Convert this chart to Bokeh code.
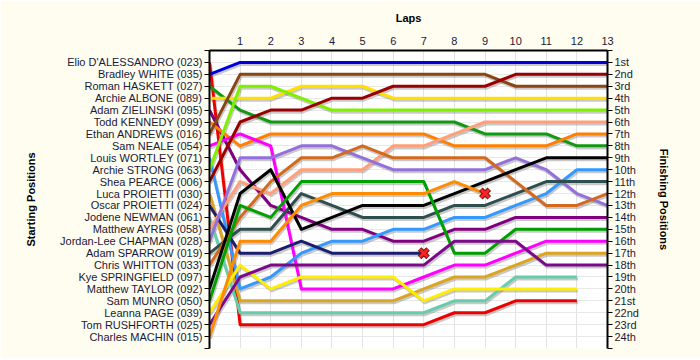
from bokeh.plotting import figure
from bokeh.models import Range1d, FixedTicker, LinearAxis
from bokeh.embed import file_html
from bokeh.resources import INLINE

# Starting grid (position 1..24)
starters = [
    "Elio D'ALESSANDRO (023)", "Bradley WHITE (035)", "Roman HASKETT (027)",
    "Archie ALBONE (089)", "Adam ZIELINSKI (095)", "Todd KENNEDY (099)",
    "Ethan ANDREWS (016)", "Sam NEALE (054)", "Louis WORTLEY (071)",
    "Archie STRONG (063)", "Shea PEARCE (006)", "Luca PROIETTI (030)",
    "Oscar PROIETTI (024)", "Jodene NEWMAN (061)", "Matthew AYRES (058)",
    "Jordan-Lee CHAPMAN (028)", "Adam SPARROW (019)", "Chris WHITTON (033)",
    "Kye SPRINGFIELD (097)", "Matthew TAYLOR (092)", "Sam MUNRO (050)",
    "Leanna PAGE (039)", "Tom RUSHFORTH (025)", "Charles MACHIN (015)",
]
finish_labels = ["1st", "2nd", "3rd"] + [f"{i}th" for i in range(4, 21)] + ["21st", "22nd", "23rd", "24th"]
laps_ticks = list(range(1, 14))

# Position at lap 0, 1, 2, ... (list ends where the driver stopped)
pos_elio    = [1, 23, 23, 23, 23, 23, 23, 23, 22, 22, 21, 21, 21]
pos_bradley = [2, 1, 1, 1, 1, 1, 1, 1, 1, 1, 1, 1, 1, 1]
pos_roman   = [3, 5, 6, 6, 6, 6, 6, 6, 6, 7, 7, 7, 8, 8]
pos_albone  = [4, 4, 4, 3, 3, 3, 4, 4, 4, 4, 4, 4, 4, 4]
pos_zielin  = [5, 10, 13, 14, 15, 15, 16, 16, 15, 15, 14, 14, 14, 14]
pos_todd    = [6, 8, 7, 7, 7, 7, 7, 7, 8, 8, 8, 8, 7, 7]
pos_ethan   = [7, 2, 2, 2, 2, 2, 2, 2, 2, 2, 3, 3, 3, 3]
pos_neale   = [8, 7, 8, 20, 20, 20, 20, 19, 18, 18, 17, 16, 16, 16]
pos_wortley = [9, 20, 19, 17, 16, 16, 15, 15, 14, 14, 13, 12, 10, 10]
pos_strong  = [10, 3, 3, 4, 5, 5, 5, 5, 5, 5, 5, 5, 5, 5]
pos_pearce  = [11, 6, 5, 5, 4, 4, 3, 3, 3, 3, 2, 2, 2, 2]
pos_luca    = [12, 21, 21, 21, 21, 21, 21, 20, 19, 19, 18, 17, 17, 17]
pos_oscar   = [13, 17, 17, 16, 17, 17, 17, 17]
pos_newman  = [14, 22, 22, 22, 22, 22, 22, 22, 21, 21, 19, 19, 19]
pos_ayres   = [15, 11, 12, 10, 10, 10, 8, 8, 7, 6, 6, 6, 6, 6]
pos_chapman = [16, 9, 9, 8, 8, 9, 10, 10, 10, 10, 9, 10, 12, 13]
pos_sparrow = [17, 15, 15, 12, 13, 14, 14, 14, 13, 13, 12, 11, 11, 11]
pos_whitton = [18, 14, 11, 9, 9, 8, 9, 9, 9, 9, 11, 13, 13, 12]
pos_taylor  = [20, 12, 10, 15, 14, 13, 13, 13, 12, 11, 10, 9, 9, 9]
pos_munro   = [21, 13, 14, 11, 11, 11, 11, 11, 17, 17, 15, 15, 15, 15]
pos_page    = [22, 18, 20, 19, 19, 19, 19, 21, 20, 20, 20, 20, 20]
pos_rush    = [23, 19, 18, 18, 18, 18, 18, 18, 16, 16, 16, 18, 18, 18]
pos_machin  = [24, 16, 16, 13, 12, 12, 12, 12, 11, 12]

drivers = [
    (pos_elio, "#EE0000"), (pos_bradley, "#0000DD"), (pos_roman, "#119911"),
    (pos_albone, "#FFE000"), (pos_zielin, "#800080"), (pos_todd, "#FF8000"),
    (pos_ethan, "#8B4513"), (pos_neale, "#FF00FF"), (pos_wortley, "#3399FF"),
    (pos_strong, "#80F000"), (pos_pearce, "#990000"), (pos_luca, "#DAA520"),
    (pos_oscar, "#1E1E6E"), (pos_newman, "#66CDAA"), (pos_ayres, "#FFA07A"),
    (pos_chapman, "#9370DB"), (pos_sparrow, "#2F4F4F"), (pos_whitton, "#D2691E"),
    (pos_taylor, "#000000"), (pos_munro, "#00A000"), (pos_page, "#FFEE00"),
    (pos_rush, "#7A0A8A"), (pos_machin, "#FF8C00"),
]
retired_lap = [7, 9]
retired_pos = [17, 12]

p = figure(width=700, height=358, x_range=Range1d(0, 13), y_range=Range1d(25, 0),
           x_axis_location="above", y_axis_location="left",
           output_backend="svg", toolbar_location=None,
           min_border_left=209, min_border_right=93, min_border_top=50, min_border_bottom=10,
           background_fill_color="white", border_fill_color="#FEFDF0",
           outline_line_color=None)

FONT = "Liberation Sans"
LBL = "#1A1A3A"

# top axis (laps)
xa = p.xaxis[0]
xa.ticker = FixedTicker(ticks=laps_ticks)
xa.axis_label = "Laps"
xa.axis_label_text_font = FONT
xa.axis_label_text_font_style = "bold"
xa.axis_label_text_font_size = "11px"
xa.axis_label_text_color = "black"
xa.axis_label_standoff = 10
xa.major_label_text_font = FONT
xa.major_label_text_font_size = "11px"
xa.major_label_text_color = LBL
xa.major_label_standoff = 6
xa.major_tick_out = 0
xa.major_tick_in = 0
xa.minor_tick_out = 0
xa.minor_tick_in = 0
xa.axis_line_width = 2

# left axis (starting positions)
ya = p.yaxis[0]
ya.ticker = FixedTicker(ticks=list(range(0, 26)))
ya.major_label_overrides = {0: "", 25: "", **{i + 1: n for i, n in enumerate(starters)}}
ya.axis_label = "Starting Positions"
ya.axis_label_text_font = FONT
ya.axis_label_text_font_style = "bold"
ya.axis_label_text_font_size = "11px"
ya.axis_label_text_color = "black"
ya.axis_label_standoff = 20
ya.major_label_text_font = FONT
ya.major_label_text_font_size = "11px"
ya.major_label_text_color = LBL
ya.major_label_standoff = 2
ya.major_tick_out = 5
ya.major_tick_in = 0
ya.minor_tick_out = 0
ya.minor_tick_in = 0
ya.axis_line_width = 2

# right axis (finishing positions)
ra = LinearAxis(ticker=FixedTicker(ticks=list(range(0, 26))))
ra.major_label_overrides = {0: "", 25: "", **{i + 1: f for i, f in enumerate(finish_labels)}}
ra.axis_label = "Finishing Positions"
ra.axis_label_text_font = FONT
ra.axis_label_text_font_style = "bold"
ra.axis_label_text_font_size = "11px"
ra.axis_label_text_color = "black"
ra.axis_label_standoff = 16
ra.major_label_text_font = FONT
ra.major_label_text_font_size = "11px"
ra.major_label_text_color = LBL
ra.major_label_standoff = 2
ra.major_tick_out = 5
ra.major_tick_in = 0
ra.minor_tick_out = 0
ra.minor_tick_in = 0
ra.axis_line_width = 2
p.add_layout(ra, "right")

p.xgrid.ticker = FixedTicker(ticks=laps_ticks)
p.ygrid.ticker = FixedTicker(ticks=list(range(1, 25)))
p.xgrid.grid_line_color = "#E3E3E3"
p.ygrid.grid_line_color = "#E8E8E8"

# shadows then lines
for pos, col in drivers:
    laps = list(range(len(pos)))
    p.line([l + 0.035 for l in laps], [v + 0.17 for v in pos], line_color="#777777",
           line_alpha=0.4, line_width=3, line_join="round")
for pos, col in drivers:
    laps = list(range(len(pos)))
    p.line(laps, pos, line_color=col, line_width=3, line_join="round")

p.scatter(retired_lap, retired_pos, marker="x", size=12, line_color="#661111", line_width=5)
p.scatter(retired_lap, retired_pos, marker="x", size=11, line_color="#FF2222", line_width=3)

open("out.html", "w").write(file_html(p, INLINE))
